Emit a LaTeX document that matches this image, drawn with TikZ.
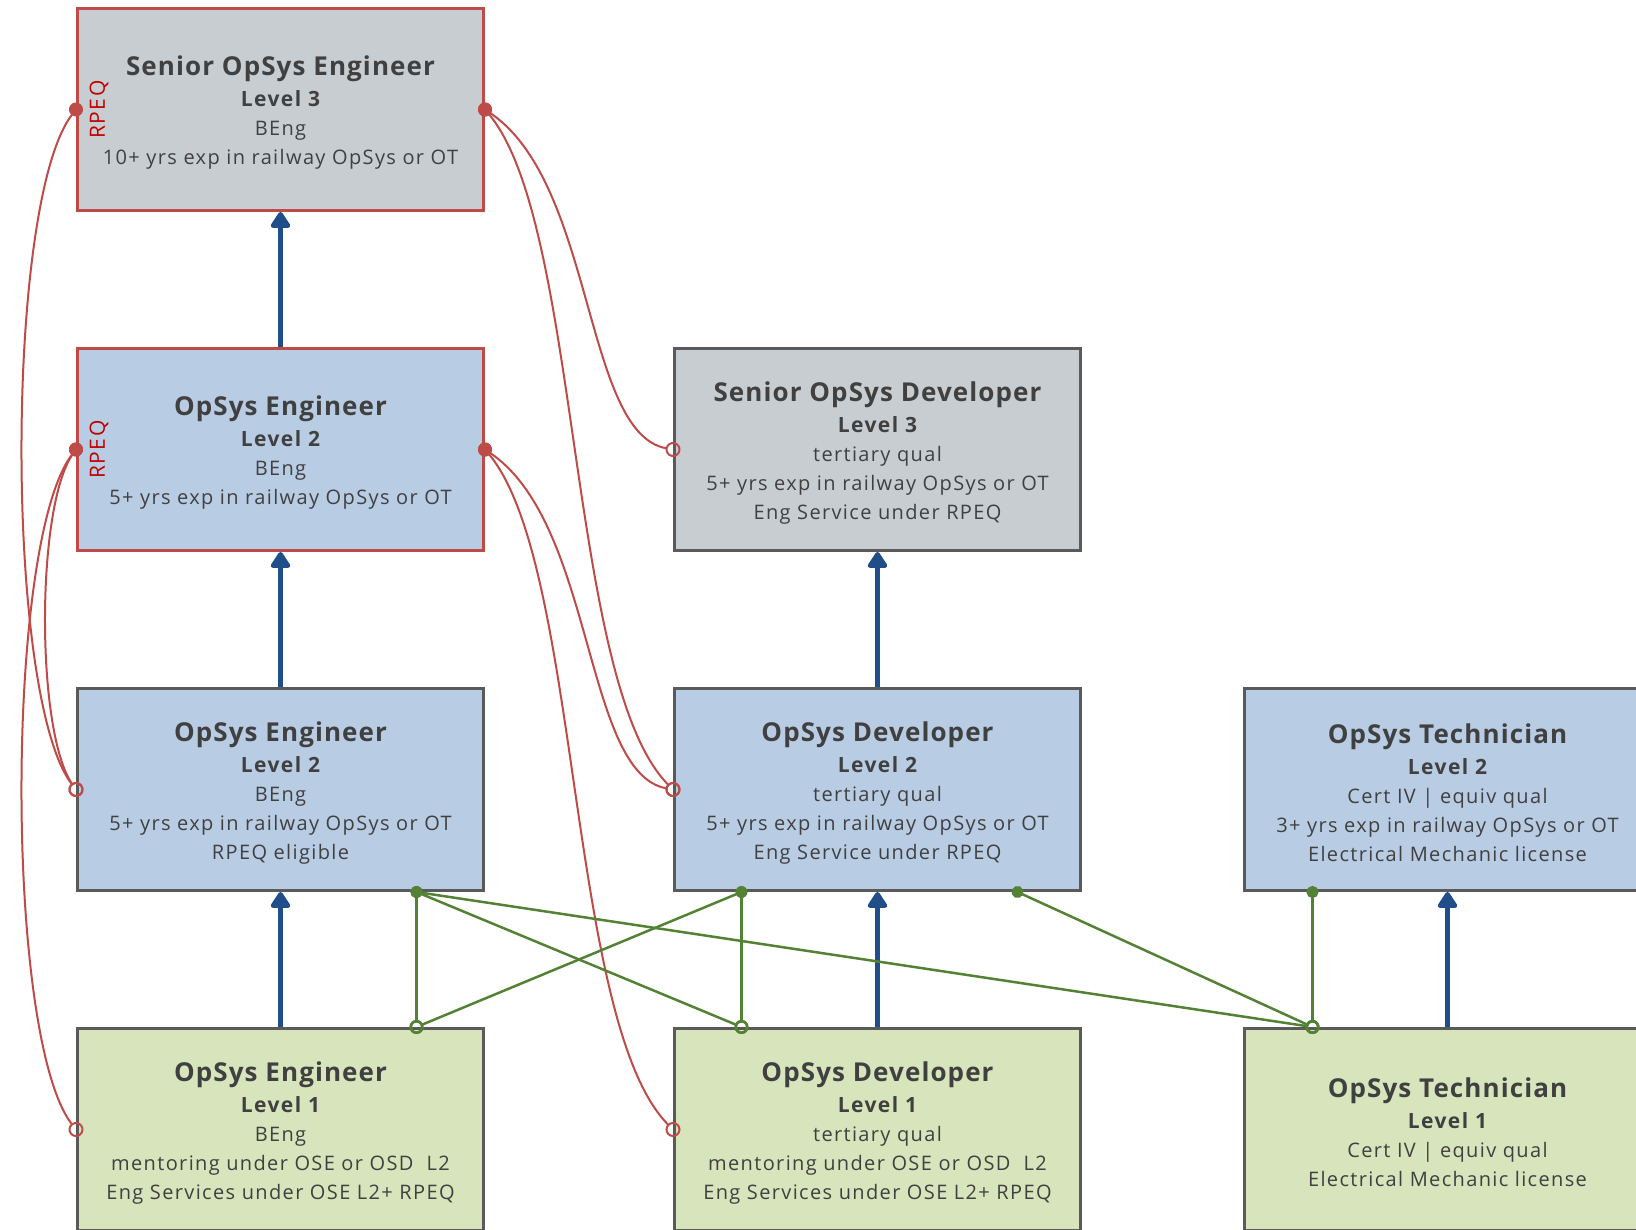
\documentclass[tikz,border=0pt]{standalone}
\usepackage{fontspec}
\setmainfont{Open Sans}[LetterSpace=6.8]
\newfontfamily\titlefont{Open Sans}[LetterSpace=4.2]
\usetikzlibrary{arrows.meta, positioning}

\definecolor{boxgray}{HTML}{C8CDD1}
\definecolor{boxblue}{HTML}{B8CCE4}
\definecolor{boxgreen}{HTML}{D8E4BC}
\definecolor{edgegray}{HTML}{5A5A5A}
\definecolor{edgered}{HTML}{BE4B48}
\definecolor{rpeqred}{HTML}{C00000}
\definecolor{linkblue}{HTML}{1F4E8B}
\definecolor{linkgreen}{HTML}{548235}
\definecolor{txtgray}{HTML}{404040}

\newcommand{\roletitle}[1]{{\titlefont\fontsize{26}{30}\selectfont\bfseries\rule{0pt}{26pt}#1}\\[2pt]}
\newcommand{\rolelevel}[1]{{\fontsize{21}{29}\selectfont\bfseries Level #1}}

\begin{document}
\begin{tikzpicture}[
        x=1pt, y=1pt,
        node distance=135pt and 188pt, % rows and columns
        role/.style={rectangle, draw=edgegray, line width=3pt, text=txtgray, minimum width=406pt, minimum height=202pt, align=center, font=\fontsize{20}{29}\selectfont},
        rpeqrole/.style={role, draw=edgered},
        rpeq/.style={text=rpeqred, rotate=90, inner sep=0pt, font=\fontsize{21}{21}\selectfont},
        uparrow/.style={draw=linkblue, line width=5pt, -{Triangle[width=22pt, length=18pt, round]}},
        eqlink/.style={draw=edgered, line width=2pt, {Circle[length=14pt]}-{Circle[open, length=15pt]}, shorten <=-7pt, shorten >=-7.5pt},
        grlink/.style={draw=linkgreen, line width=2.5pt, {Circle[length=12pt]}-{Circle[open, length=14pt]}, shorten <=-6pt, shorten >=-7pt}
    ]
    \useasboundingbox (0,0) rectangle (1636,-1230);

    % --- Nodes ---
    \node[rpeqrole, fill=boxgray] (engTop) at (280.5,-109.5) {\roletitle{Senior OpSys Engineer}\rolelevel{3}\\BEng\\10+ yrs exp in railway OpSys or OT};
    \node[rpeqrole, fill=boxblue, below=of engTop] (eng2r) {\roletitle{OpSys Engineer}\rolelevel{2}\\BEng\\5+ yrs exp in railway OpSys or OT};
    \node[role, fill=boxgray, right=of eng2r] (sdev) {\roletitle{Senior OpSys Developer}\rolelevel{3}\\tertiary qual\\5+ yrs exp in railway OpSys or OT\\Eng Service under RPEQ};

    \node[role, fill=boxblue, below=of eng2r] (eng2) {\roletitle{OpSys Engineer}\rolelevel{2}\\BEng\\5+ yrs exp in railway OpSys or OT\\RPEQ eligible};
    \node[role, fill=boxblue, below=of sdev] (dev2) {\roletitle{OpSys Developer}\rolelevel{2}\\tertiary qual\\5+ yrs exp in railway OpSys or OT\\Eng Service under RPEQ};
    \node[role, fill=boxblue, right=161pt of dev2] (tech2) {\roletitle{OpSys Technician}\rolelevel{2}\\Cert IV | equiv qual\\3+ yrs exp in railway OpSys or OT\\Electrical Mechanic license};

    \node[role, fill=boxgreen, below=of eng2] (eng1) {\roletitle{OpSys Engineer}\rolelevel{1}\\BEng\\mentoring under OSE or OSD~\ L2\\Eng Services under OSE L2+ RPEQ};
    \node[role, fill=boxgreen, below=of dev2] (dev1) {\roletitle{OpSys Developer}\rolelevel{1}\\tertiary qual\\mentoring under OSE or OSD~\ L2\\Eng Services under OSE L2+ RPEQ};
    \node[role, fill=boxgreen, below=of tech2] (tech1) {\roletitle{OpSys Technician}\rolelevel{1}\\Cert IV | equiv qual\\Electrical Mechanic license};

    \node[rpeq] (rpeqTop) at ([xshift=23pt]engTop.west) {RPEQ};
    \node[rpeq] (rpeqMid) at ([xshift=23pt]eng2r.west) {RPEQ};

    % --- Edges ---
    \draw[uparrow] (eng2r) -- (engTop);
    \draw[uparrow] (eng2) -- (eng2r);
    \draw[uparrow] (eng1) -- (eng2);
    \draw[uparrow] (dev2) -- (sdev);
    \draw[uparrow] (dev1) -- (dev2);
    \draw[uparrow] (tech1) -- (tech2);

    % RPEQ links
    \draw[eqlink] (engTop.west) to[out=232, in=128, distance=116pt] (eng2.west);
    \draw[eqlink] (eng2r.west) to[out=235, in=125, distance=70pt] (eng2.west);
    \draw[eqlink] (eng2r.west) to[out=232, in=128, distance=116pt] (eng1.west);
    \draw[eqlink] (engTop.east) to[out=-34, in=170, out distance=133pt, in distance=91pt] (sdev.west);
    \draw[eqlink] (engTop.east) to[out=-50, in=135, distance=150pt] (dev2.west);
    \draw[eqlink] (eng2r.east) to[out=-34, in=170, out distance=133pt, in distance=91pt] (dev2.west);
    \draw[eqlink] (eng2r.east) to[out=-50, in=135, distance=150pt] (dev1.west);

    % level 2 to level 1 links
    \draw[grlink] ([xshift=136pt]eng2.south) -- ([xshift=136pt]eng1.north);
    \draw[grlink] ([xshift=136pt]eng2.south) -- ([xshift=-136pt]dev1.north);
    \draw[grlink] ([xshift=136pt]eng2.south) -- ([xshift=-135pt]tech1.north);
    \draw[grlink] ([xshift=-136pt]dev2.south) -- ([xshift=136pt]eng1.north);
    \draw[grlink] ([xshift=-136pt]dev2.south) -- ([xshift=-136pt]dev1.north);
    \draw[grlink] ([xshift=140pt]dev2.south) -- ([xshift=-135pt]tech1.north);
    \draw[grlink] ([xshift=-135pt]tech2.south) -- ([xshift=-135pt]tech1.north);

\end{tikzpicture}
\end{document}
